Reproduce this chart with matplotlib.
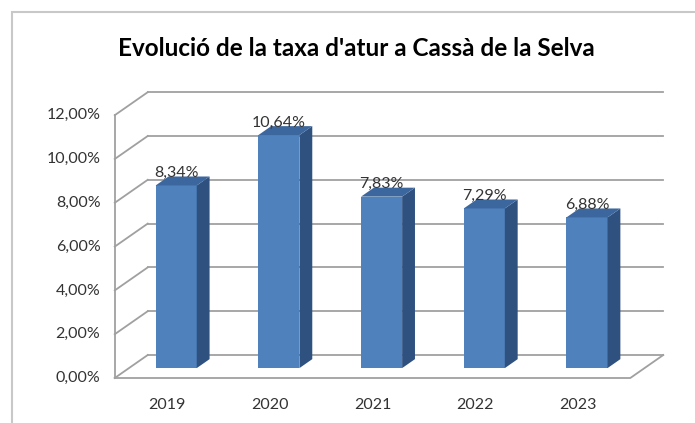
import numpy as np
import matplotlib
matplotlib.use('Agg')
import matplotlib.pyplot as plt
from matplotlib.patches import Polygon, Rectangle

# Dades
years = ['2019', '2020', '2021', '2022', '2023']
rates = [8.34, 10.64, 7.83, 7.29, 6.88]
ticks = [0, 2, 4, 6, 8, 10, 12]
title = "Evolució de la taxa d'atur a Cassà de la Selva"

# Estil
plt.rcParams['font.family'] = ['Lato', 'DejaVu Sans']
front_col = '#4F81BD'
side_col = '#2F5180'
top_col = '#3C679E'
grid_col = '#A0A0A0'
text_col = '#333333'
fs = 11.5

# Perspectiva obliqua (efecte 3D d'Excel)
DX, DY = 0.321, 1.05      # desplaçament de la profunditat en unitats de dades
D0, D1 = 0.43, 0.82       # profunditat de la barra
X0, X1 = -0.46, 4.56      # extrems del pla
W = 0.40                  # amplada de la barra


def proj(i, v, d):
    return (i + d * DX, v + d * DY)


fig = plt.figure(figsize=(6.95, 4.23), dpi=100)
ax = fig.add_axes([0, 0, 1, 1])
ax.set_xlim(-162 / 102.7, (695 - 162) / 102.7)
ax.set_ylim((378 - 423) / 21.9, 378 / 21.9)
ax.axis('off')

# Marc del gràfic
fig.patches.append(Rectangle((12 / 695, -0.05), 1.0, 1 - 12 / 423 + 0.05,
                             transform=fig.transFigure, fill=False,
                             edgecolor='#C8C8C8', linewidth=1.5))

# Parets i línies de quadrícula
top = ticks[-1]
for t in ticks:
    p, q = proj(X0, t, 1), proj(X1, t, 1)
    ax.plot([p[0], q[0]], [p[1], q[1]], color=grid_col, lw=1.3, zorder=1)
    p, q = proj(X0, t, 0), proj(X0, t, 1)
    ax.plot([p[0], q[0]], [p[1], q[1]], color=grid_col, lw=1.3, zorder=1)
    lx, ly = proj(X0, t, 0)
    ax.text(lx - 0.14, ly, f'{t:.2f}'.replace('.', ',') + '%', ha='right',
            va='center', fontsize=fs, color=text_col)

p, q = proj(X0, 0, 0), proj(X0, top, 0)
ax.plot([p[0], q[0]], [p[1], q[1]], color=grid_col, lw=1.3, zorder=1)
floor = [proj(X0, 0, 0), proj(X1, 0, 0), proj(X1, 0, 1)]
ax.plot([f[0] for f in floor], [f[1] for f in floor], color=grid_col, lw=1.3, zorder=1)

# Barres
idx = np.arange(len(years))
ax.bar(idx + D0 * DX, rates, width=W, bottom=D0 * DY, color=front_col,
       edgecolor='none', zorder=3)
for i, v in zip(idx, rates):
    side = [proj(i + W / 2, 0, D0), proj(i + W / 2, 0, D1),
            proj(i + W / 2, v, D1), proj(i + W / 2, v, D0)]
    ax.add_patch(Polygon(side, closed=True, facecolor=side_col, edgecolor='none', zorder=3))
    roof = [proj(i - W / 2, v, D0), proj(i + W / 2, v, D0),
            proj(i + W / 2, v, D1), proj(i - W / 2, v, D1)]
    ax.add_patch(Polygon(roof, closed=True, facecolor=top_col, edgecolor='none', zorder=3))
    lx, ly = proj(i, v, D0)
    ax.text(lx, ly + 0.25, f'{v:.2f}'.replace('.', ',') + '%', ha='center',
            va='bottom', fontsize=fs, color=text_col, zorder=4)
    ax.text(i + 0.05, -1.23, years[i], ha='center', va='center',
            fontsize=fs, color=text_col)

fig.text(356 / 695, 1 - 48 / 423, title, ha='center', va='center',
         fontsize=17.5, fontweight='bold', color='black')

fig.savefig('out.png', dpi=100)
